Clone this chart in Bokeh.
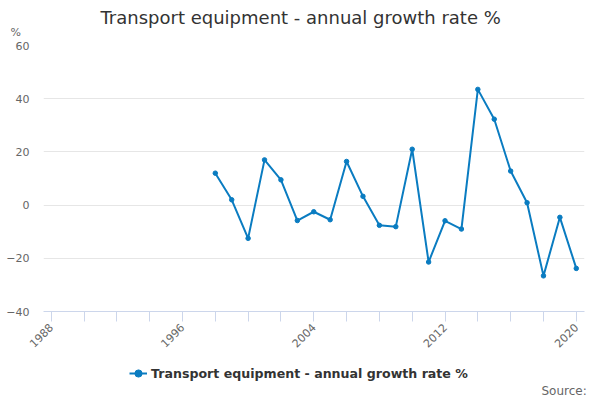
import math
from bokeh.plotting import figure
from bokeh.layouts import column
from bokeh.models import (ColumnDataSource, FixedTicker, Label, Legend, LegendItem, Range1d, Title)
from bokeh.embed import file_html
from bokeh.resources import INLINE

years = list(range(1998, 2021))
growth = [12, 2, -12.5, 17, 9.5, -5.8, -2.5, -5.5, 16.4, 3.3, -7.6, -8.1, 21,
          -21.4, -5.9, -9.0, 43.5, 32.3, 12.8, 0.9, -26.6, -4.6, -23.8]
x_ticks = list(range(1988, 2021, 2))
x_labels = [1988, 1996, 2004, 2012, 2020]
y_ticks = [-40, -20, 0, 20, 40, 60]
title_text = "Transport equipment - annual growth rate %"
series_name = "Transport equipment - annual growth rate %"
source_text = "Source:"

FONT = "DejaVu Sans"
BLUE = "#0a7cc1"

p = figure(output_backend="svg", toolbar_location=None, title_location=None,
           x_range=Range1d(1987.53, 2020.5), y_range=Range1d(-40, 60),
           frame_width=541, frame_height=266,
           min_border_left=43, min_border_right=16, min_border_top=45, min_border_bottom=45)
p.outline_line_color = None
p.background_fill_color = "white"

src = ColumnDataSource(dict(x=years, y=growth))
r_line = p.line("x", "y", source=src, line_color=BLUE, line_width=2)
r_pts = p.scatter("x", "y", source=src, size=4.5, fill_color=BLUE, line_color=BLUE)

# x axis
xa = p.xaxis[0]
xa.ticker = FixedTicker(ticks=x_ticks)
xa.major_label_overrides = {t: (str(t) if t in x_labels else "") for t in x_ticks}
xa.major_label_orientation = math.pi / 4
xa.axis_line_color = "#ccd6eb"
xa.major_tick_line_color = "#ccd6eb"
xa.major_tick_in = 0
xa.major_tick_out = 10
xa.minor_tick_line_color = None
xa.major_label_text_font = FONT
xa.major_label_text_font_size = "11px"
xa.major_label_text_color = "#666666"
xa.major_label_standoff = 4

# y axis
ya = p.yaxis[0]
ya.ticker = FixedTicker(ticks=y_ticks)
ya.axis_line_color = None
ya.major_tick_line_color = None
ya.minor_tick_line_color = None
ya.major_tick_out = 0
ya.major_tick_in = 0
ya.major_label_text_font = FONT
ya.major_label_text_font_size = "11px"
ya.major_label_text_color = "#666666"
ya.major_label_standoff = 14

p.xgrid.grid_line_color = None
p.ygrid.ticker = FixedTicker(ticks=y_ticks)
p.ygrid.grid_line_color = "#e6e6e6"

# texts above the plot: "%" unit (closest to frame), then the main title
p.add_layout(Title(text="%", align="left", offset=-33, text_font=FONT,
                   text_font_size="11px", text_font_style="normal",
                   text_color="#666666", standoff=13), "above")
p.add_layout(Title(text=title_text, align="left", offset=57, text_font=FONT,
                   text_font_size="18px", text_font_style="normal",
                   text_color="#333333", standoff=-20), "above")

# footer: legend and source note
f = figure(output_backend="svg", toolbar_location=None, title_location=None,
           x_range=Range1d(0, 600), y_range=Range1d(0, 44),
           frame_width=600, frame_height=44,
           min_border_left=0, min_border_right=0, min_border_top=0, min_border_bottom=0)
f.outline_line_color = None
f.axis.visible = False
f.grid.visible = False
# legend samples: same series, lying outside this strip's ranges
l_line = f.line("x", "y", source=src, line_color=BLUE, line_width=2)
l_pts = f.scatter("x", "y", source=src, size=4.5, fill_color=BLUE, line_color=BLUE)
legend = Legend(items=[LegendItem(label=series_name, renderers=[l_line, l_pts])],
                location=(129, 17), orientation="horizontal",
                label_text_font=FONT, label_text_font_size="12.6px",
                label_text_font_style="bold", label_text_color="#333333",
                glyph_width=18, label_standoff=4, padding=2, spacing=0, margin=0,
                border_line_color=None, background_fill_alpha=0)
f.add_layout(legend, "center")
f.add_layout(Label(x=498, y=10, x_units="screen", y_units="screen", text=source_text,
                   text_font=FONT, text_font_size="12px", text_color="#666666",
                   text_align="left", text_baseline="middle"))

layout = column(p, f, spacing=0)
open("out.html", "w").write(file_html(layout, INLINE))
